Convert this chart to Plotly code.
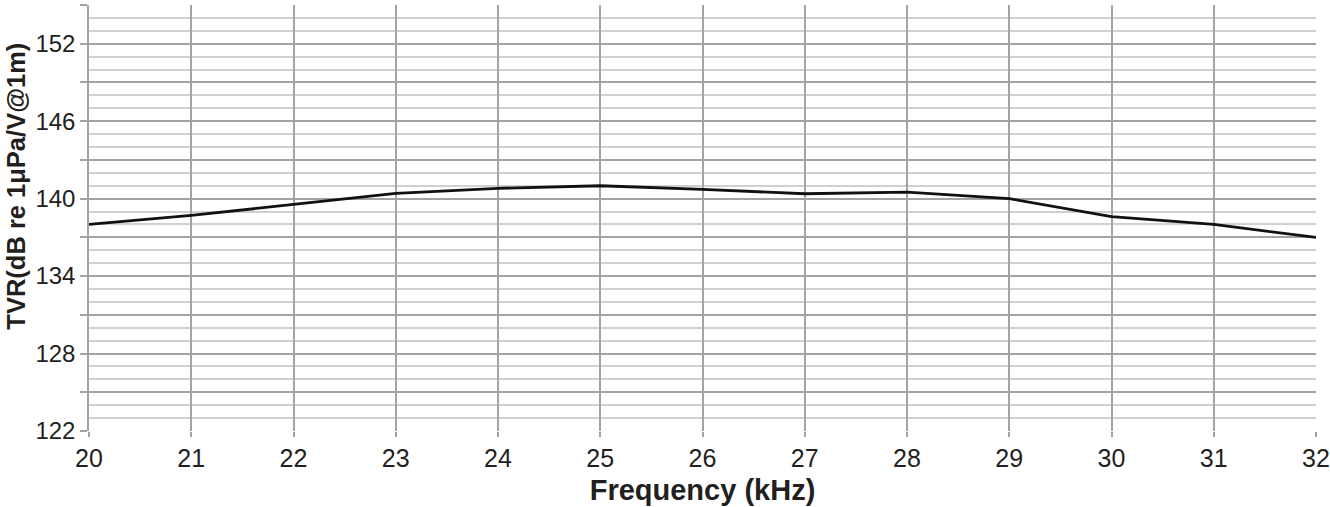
import plotly.graph_objects as go

freq_khz = [20, 21, 22, 23, 24, 25, 26, 27, 28, 29, 30, 31, 32]
tvr_db = [138.0, 138.7, 139.55, 140.4, 140.8, 141.0, 140.72, 140.38, 140.5, 140.0, 138.6, 138.0, 137.0]

y_tick_vals = list(range(122, 156, 3))
y_tick_text = [str(v) if (v - 122) % 6 == 0 else "" for v in y_tick_vals]
x_tick_vals = list(range(20, 33))

font_family = "Liberation Sans, Arial, sans-serif"
text_color = "#231f20"
major_grid = "#a3a3a3"
minor_grid = "#d0d0d0"

fig = go.Figure()
fig.add_trace(go.Scatter(
    x=freq_khz, y=tvr_db, mode="lines",
    line=dict(color="#111111", width=2.8),
    showlegend=False, hoverinfo="skip",
))

fig.update_layout(
    width=1330, height=507,
    margin=dict(l=89, r=14, t=5, b=76, autoexpand=False),
    paper_bgcolor="white", plot_bgcolor="white",
    font=dict(family=font_family, color=text_color, size=24),
    xaxis=dict(
        range=[20, 32], tickvals=x_tick_vals,
        showgrid=True, gridcolor=major_grid, gridwidth=1.5,
        ticks="outside", ticklen=5, tickcolor=major_grid, tickwidth=1.5,
        showline=False, zeroline=False, automargin=False,
        tickfont=dict(size=25, color=text_color),
        title=dict(text="<b>Frequency (kHz)</b>", font=dict(size=29, color=text_color), standoff=8),
    ),
    yaxis=dict(
        range=[122, 155], tickvals=y_tick_vals, ticktext=y_tick_text,
        showgrid=True, gridcolor=major_grid, gridwidth=1.5,
        ticks="outside", ticklen=7, tickcolor=major_grid, tickwidth=1.5,
        showline=True, linecolor=major_grid, linewidth=1.5,
        zeroline=False, automargin=False,
        tickfont=dict(size=24, color=text_color),
        ticklabelstandoff=0,
        minor=dict(dtick=1, tick0=122, showgrid=True, gridcolor=minor_grid, gridwidth=1.5, ticks=""),
        layer="below traces",
    ),
    annotations=[dict(
        text="<b>TVR(dB re 1μPa/V@1m)</b>", xref="paper", yref="paper",
        x=-0.0598, y=0.575, xanchor="center", yanchor="middle",
        textangle=-90, showarrow=False, borderpad=0,
        font=dict(size=25.5, color=text_color, family=font_family),
    )],
)

fig.write_html(
    "out.html",
    config={"displayModeBar": False},
    post_script="document.body.style.margin='0';document.body.style.overflow='hidden';",
)
